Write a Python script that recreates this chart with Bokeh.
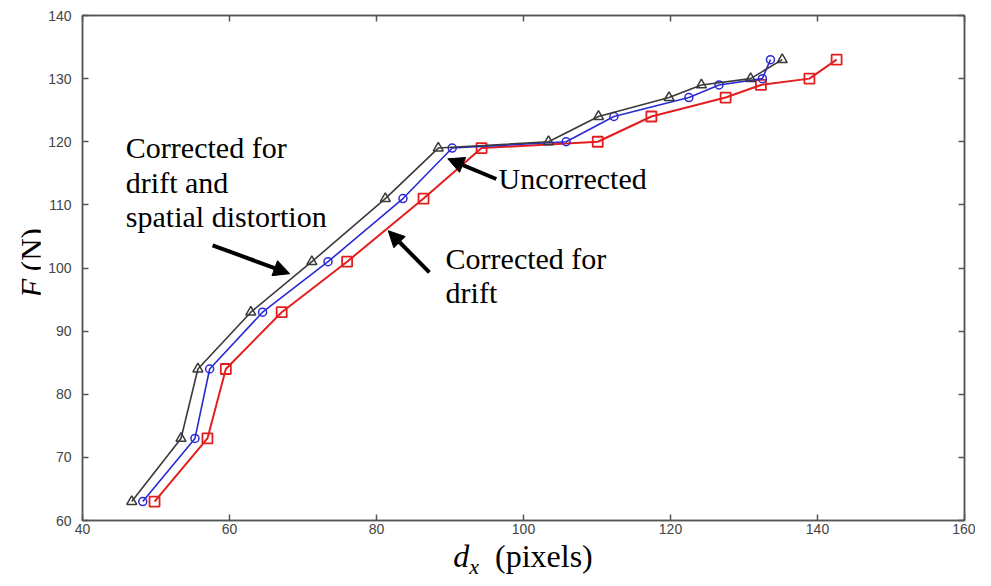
from bokeh.plotting import figure
from bokeh.models import (Label, Arrow, NormalHead, LinearAxis, Range1d, FixedTicker,
                          ColumnDataSource, CustomJSTickFormatter, Div)
from bokeh.layouts import row, column
from bokeh.embed import file_html
from bokeh.resources import INLINE

# Data
force = [63, 73, 84, 93, 101, 111, 119, 120, 124, 127, 129, 130, 133]
dx_drift_spatial = [46.7, 53.4, 55.7, 62.9, 71.2, 81.2, 88.4, 103.4, 110.2, 119.8, 124.2, 130.9, 135.2]
dx_drift = [48.2, 55.3, 57.3, 64.5, 73.4, 83.6, 90.3, 105.8, 112.3, 122.5, 126.6, 132.5, 133.6]
dx_uncorrected = [49.8, 57.0, 59.5, 67.1, 76.0, 86.4, 94.3, 110.1, 117.4, 127.5, 132.3, 138.9, 142.6]

x_ticks = [40, 60, 80, 100, 120, 140, 160]
y_ticks = [60, 70, 80, 90, 100, 110, 120, 130, 140]

SERIF = "Liberation Serif"
SANS = "Liberation Sans"
AX = "#555555"

YDIV_W = 40
P_W, P_H = 935, 542

p = figure(width=P_W, height=P_H, x_range=Range1d(40, 160), y_range=Range1d(60, 140),
           output_backend="svg", toolbar_location=None,
           min_border_left=82 - YDIV_W, min_border_right=11, min_border_top=15,
           min_border_bottom=22, margin=0)
p.xgrid.visible = False
p.ygrid.visible = False
p.outline_line_color = AX
p.outline_line_width = 1.5
p.background_fill_color = "white"
p.border_fill_color = "white"

for ax, ticks in ((p.xaxis[0], x_ticks), (p.yaxis[0], y_ticks)):
    ax.ticker = FixedTicker(ticks=ticks)
    ax.major_tick_in = 6
    ax.major_tick_out = 0
    ax.minor_tick_in = 0
    ax.minor_tick_out = 0
    ax.axis_line_color = AX
    ax.axis_line_width = 1.5
    ax.major_tick_line_color = AX
    ax.major_tick_line_width = 1.5
    ax.major_label_text_font = SANS
    ax.major_label_text_font_size = "14px"
    ax.major_label_text_color = "#444444"
p.xaxis[0].major_label_standoff = 3
p.yaxis[0].major_label_standoff = 11

# mirrored axes (ticks only) on top and right
for loc, ticks in (("above", x_ticks), ("right", y_ticks)):
    a = LinearAxis(ticker=FixedTicker(ticks=ticks), major_tick_in=6, major_tick_out=0,
                   minor_tick_in=0, minor_tick_out=0, axis_line_color=AX, axis_line_width=1.5,
                   major_tick_line_color=AX, major_tick_line_width=1.5,
                   formatter=CustomJSTickFormatter(code="return ''"),
                   major_label_standoff=0)
    p.add_layout(a, loc)

src = ColumnDataSource(dict(F=force, a=dx_drift_spatial, b=dx_drift, c=dx_uncorrected))

# red squares
p.line("c", "F", source=src, line_color="#e41e1e", line_width=2)
p.scatter("c", "F", source=src, marker="square", size=10, line_color="#e41e1e",
          line_width=1.8, fill_color=None)
# blue circles
p.line("b", "F", source=src, line_color="#2a2ad2", line_width=1.6)
p.scatter("b", "F", source=src, marker="circle", size=8, line_color="#2a2ad2",
          line_width=1.5, fill_color=None)
# dark triangles
p.line("a", "F", source=src, line_color="#3a3a3a", line_width=1.6)
p.scatter("a", "F", source=src, marker="triangle", size=10, line_color="#3a3a3a",
          line_width=1.5, fill_color=None)

# annotations
def lab(x, y, t, size="30px"):
    p.add_layout(Label(x=x, y=y, text=t, text_font=SERIF, text_font_size=size,
                       text_font_style="normal",
                       text_align="left", text_baseline="middle", text_color="black"))

lab(45.9, 119.1, "Corrected for")
lab(45.9, 113.6, "drift and")
lab(45.9, 108.2, "spatial distortion")
lab(96.6, 114.2, "Uncorrected")
lab(89.4, 101.5, "Corrected for")
lab(89.4, 96.1, "drift")

for xs, ys, xe, ye in ((57.7, 103.6, 68.2, 99.1), (96.3, 114.1, 89.7, 117.3), (87.2, 99.3, 81.6, 105.9)):
    p.add_layout(Arrow(end=NormalHead(size=16, fill_color="black", line_color="black"),
                       x_start=xs, y_start=ys, x_end=xe, y_end=ye,
                       line_width=4, line_color="black"))

# axis titles (as HTML text beside the figure)
ylab = Div(width=YDIV_W, height=P_H, margin=0, text=(
    f"<div style='position:relative;width:{YDIV_W}px;height:{P_H}px'>"
    "<div style=\"position:absolute;left:32px;top:263px;transform:translate(-50%,-50%) rotate(-90deg);"
    "white-space:nowrap;font-family:'Liberation Serif';font-size:31px;line-height:31px;color:black\">"
    "<i>F</i> (N)</div></div>"))
XDIV_H = 570 - P_H
xlab = Div(width=YDIV_W + P_W, height=XDIV_H, margin=0, text=(
    f"<div style='position:relative;width:{YDIV_W + P_W}px;height:{XDIV_H}px'>"
    "<div style=\"position:absolute;left:523px;top:58%;transform:translate(-50%,-50%);"
    "white-space:nowrap;font-family:'Liberation Serif';font-size:32px;line-height:32px;color:black\">"
    "<i>d</i><i style='font-size:22px;position:relative;top:7px'>x</i>&nbsp;&nbsp;(pixels)</div></div>"))

layout = column(row(ylab, p, spacing=0, margin=0), xlab, spacing=0, margin=0)

open("out.html", "w").write(file_html(layout, INLINE))
